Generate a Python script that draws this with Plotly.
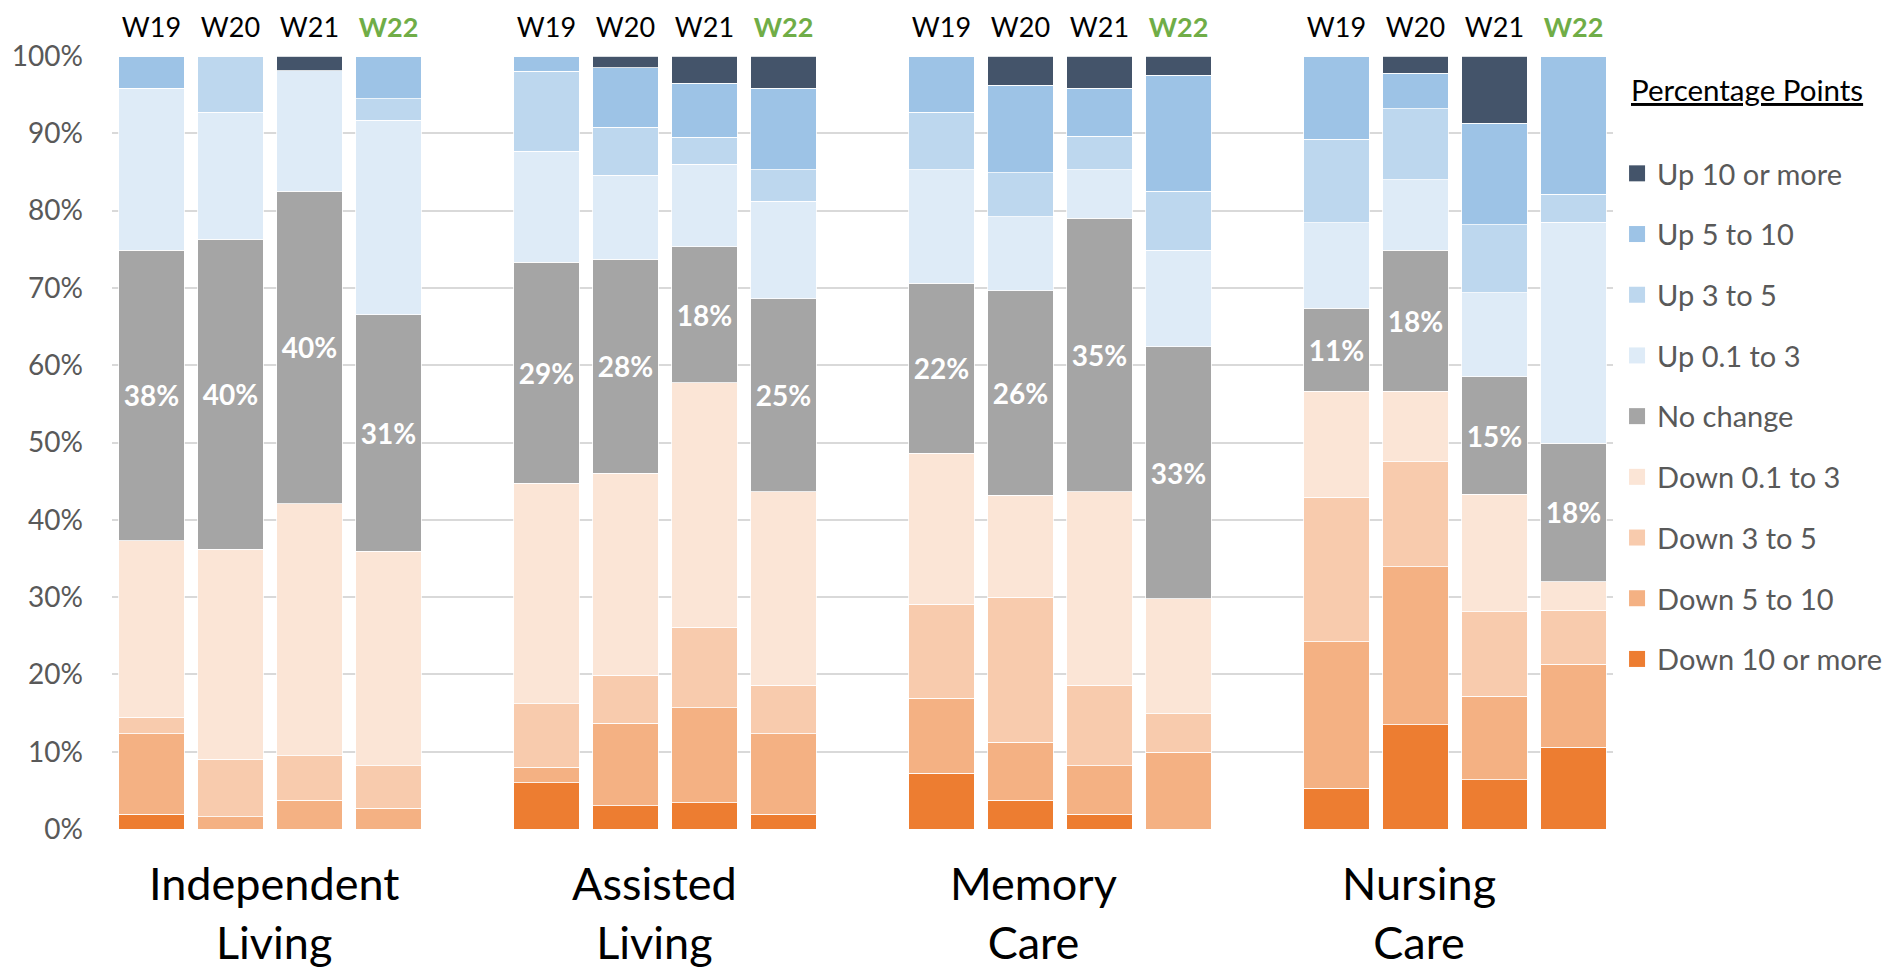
import plotly.graph_objects as go

# categories
groups = ["Independent<br>Living", "Assisted<br>Living", "Memory<br>Care", "Nursing<br>Care"]
weeks = ["W19", "W20", "W21", "W22"]
current_week = "W22"

# share of communities (%), order: IL W19..W22, AL W19..W22, MC W19..W22, NC W19..W22
down_10_plus = [1.9, 0, 0, 0,   6.0, 3.0, 3.4, 1.9,   7.2, 3.7, 1.9, 0,   5.3, 13.5, 6.4, 10.6]
down_5_10 = [10.4, 1.6, 3.7, 2.7,   2.0, 10.7, 12.3, 10.4,   9.7, 7.5, 6.3, 9.9,   18.9, 20.4, 10.8, 10.7]
down_3_5 = [2.15, 7.4, 5.8, 5.5,   8.2, 6.2, 10.4, 6.3,   12.2, 18.8, 10.4, 5.0,   18.7, 13.6, 10.9, 7.0]
down_01_3 = [22.85, 27.2, 32.6, 27.7,   28.5, 26.1, 31.6, 25.0,   19.5, 13.2, 25.0, 14.9,   13.7, 9.1, 15.2, 3.7]
no_change = [37.6, 40.1, 40.4, 30.6,   28.6, 27.7, 17.6, 25.0,   22.0, 26.4, 35.4, 32.6,   10.8, 18.3, 15.2, 17.9]
up_01_3 = [20.9, 16.4, 15.6, 25.2,   14.4, 10.9, 10.7, 12.6,   14.7, 9.6, 6.3, 12.5,   11.0, 9.1, 10.9, 28.6]
up_3_5 = [0, 7.3, 0, 2.8,   10.3, 6.2, 3.5, 4.1,   7.4, 5.7, 4.3, 7.6,   10.8, 9.2, 8.8, 3.6]
up_5_10 = [4.2, 0, 0, 5.5,   2.0, 7.7, 7.0, 10.5,   7.3, 11.3, 6.2, 15.0,   10.8, 4.6, 13.1, 17.9]
up_10_plus = [0, 0, 1.9, 0,   0, 1.5, 3.5, 4.2,   0, 3.8, 4.2, 2.5,   0, 2.2, 8.7, 0]

series = [
    ("Down 10 or more", down_10_plus, "#ED7D31"),
    ("Down 5 to 10", down_5_10, "#F4B183"),
    ("Down 3 to 5", down_3_5, "#F8CBAD"),
    ("Down 0.1 to 3", down_01_3, "#FBE5D6"),
    ("No change", no_change, "#A5A5A5"),
    ("Up 0.1 to 3", up_01_3, "#DEEBF7"),
    ("Up 3 to 5", up_3_5, "#BDD7EE"),
    ("Up 5 to 10", up_5_10, "#9DC3E6"),
    ("Up 10 or more", up_10_plus, "#44546A"),
]

FONT = "Lato"

# one empty slot between care types
slot = len(weeks) + 1
xpos = [g * slot + w for g in range(len(groups)) for w in range(len(weeks))]
week_text = [f"<b><span style='color:#70AD47'>{wk}</span></b>" if wk == current_week else wk
             for _ in groups for wk in weeks]

fig = go.Figure()
for i, (name, vals, color) in enumerate(series):
    bar = dict(
        x=xpos, y=vals, name=name,
        marker=dict(color=color, line=dict(color="white", width=0.8)),
        legendgroup=name, showlegend=False,
        hovertemplate=name + ": %{y:.1f}%<extra></extra>",
    )
    if name == "No change":
        bar.update(
            text=[f"{round(v)}%" for v in vals],
            textposition="inside",
            insidetextanchor="middle",
            textfont=dict(family=FONT, size=28, color="white", weight="bold"),
        )
    fig.add_trace(go.Bar(**bar))

# legend entries with bigger square swatches
for i, (name, vals, color) in enumerate(series):
    fig.add_trace(go.Scatter(
        x=[None], y=[None], mode="markers", name=name,
        marker=dict(symbol="square", size=16, color=color, line=dict(width=0)),
        legendgroup=name, legendrank=100 - i, hoverinfo="skip",
    ))

# care type labels sit a little left of their bar groups in the original
label_nudge = [4, -11, -27, -36]
for g, label in enumerate(groups):
    fig.add_annotation(
        x=g * slot + (len(weeks) - 1) / 2, xref="x", xshift=label_nudge[g],
        y=0, yref="paper", yanchor="top", yshift=-25,
        text=label, showarrow=False,
        font=dict(family=FONT, size=45, color="black"),
    )

fig.add_annotation(
    x=1.0109, xref="paper", xanchor="left",
    y=0.957, yref="paper", yanchor="middle",
    text="<u>Percentage Points</u>", showarrow=False,
    font=dict(family=FONT, size=29.5, color="black"),
)

fig.update_xaxes(
    range=[-0.5, len(groups) * slot - 1.5],
    tickvals=xpos, ticktext=week_text, side="top",
    showgrid=False, showline=False, zeroline=False, ticks="",
    tickfont=dict(family=FONT, size=27, color="black"),
    ticklabelstandoff=13, automargin=False,
)
fig.update_yaxes(
    range=[0, 100], dtick=10, ticksuffix="%",
    gridcolor="#D9D9D9", gridwidth=1.5,
    showline=False, zeroline=False, ticks="",
    tickfont=dict(family=FONT, size=28, color="#595959"),
    ticklabelstandoff=28, automargin=False,
)

# page body adds 8px offset, margins compensate
fig.update_layout(
    width=1895, height=967,
    margin=dict(l=104, r=290, t=48, b=146, autoexpand=False),
    barmode="stack", bargap=0.177,
    plot_bgcolor="white", paper_bgcolor="white",
    font=dict(family=FONT),
    legend=dict(
        x=1.0027, xanchor="left", y=0.881, yanchor="top",
        traceorder="grouped", tracegroupgap=20,
        font=dict(family=FONT, size=29, color="#595959"),
    ),
)

fig.write_html("out.html")
